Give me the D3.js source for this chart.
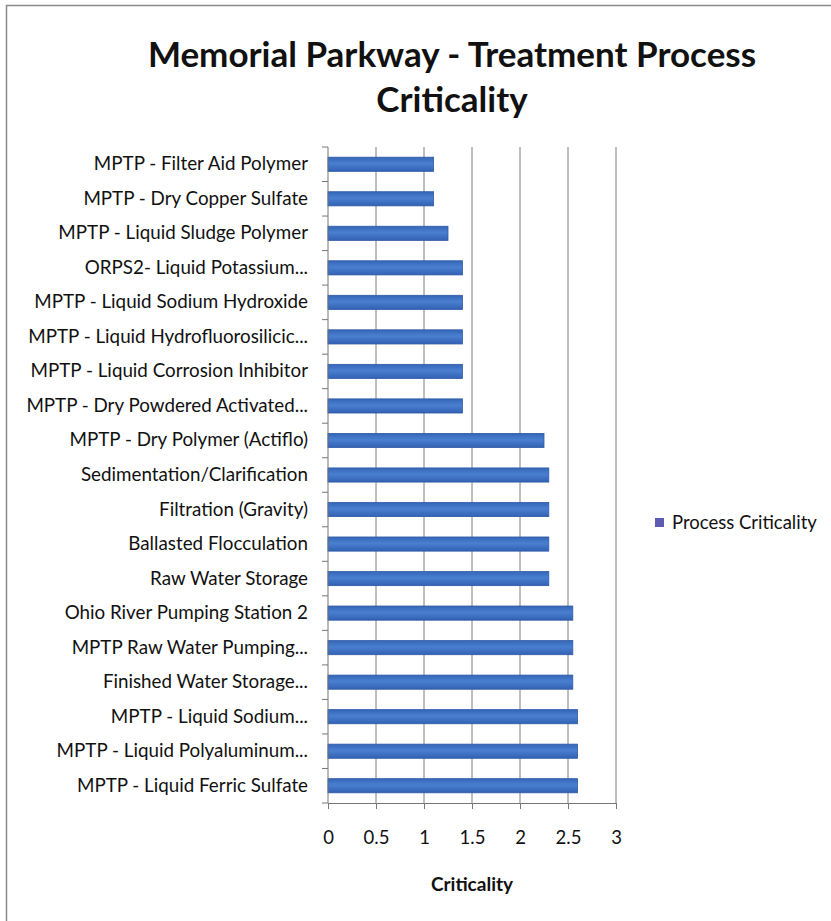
<!DOCTYPE html>
<html>
<head>
<meta charset="utf-8">
<script src="https://cdn.jsdelivr.net/npm/d3@7"></script>
<style>
  html, body { margin: 0; padding: 0; background: #fff; }
  svg { display: block; }
  text { font-family: Lato, "Open Sans", sans-serif; fill: #111; }
</style>
</head>
<body>
<svg id="chart" width="831" height="921"></svg>
<script>
// Process names, top to bottom
const categories = [
  "MPTP - Filter Aid Polymer",
  "MPTP - Dry Copper Sulfate",
  "MPTP - Liquid Sludge Polymer",
  "ORPS2- Liquid Potassium...",
  "MPTP - Liquid Sodium Hydroxide",
  "MPTP - Liquid Hydrofluorosilicic...",
  "MPTP - Liquid Corrosion Inhibitor",
  "MPTP - Dry Powdered Activated...",
  "MPTP - Dry Polymer (Actiflo)",
  "Sedimentation/Clarification",
  "Filtration (Gravity)",
  "Ballasted Flocculation",
  "Raw Water Storage",
  "Ohio River Pumping Station 2",
  "MPTP Raw Water Pumping...",
  "Finished Water Storage...",
  "MPTP - Liquid Sodium...",
  "MPTP - Liquid Polyaluminum...",
  "MPTP - Liquid Ferric Sulfate"
];
const criticality = [1.1, 1.1, 1.25, 1.4, 1.4, 1.4, 1.4, 1.4, 2.25, 2.3, 2.3, 2.3, 2.3, 2.55, 2.55, 2.55, 2.6, 2.6, 2.6];
const xTicks = [0, 0.5, 1, 1.5, 2, 2.5, 3];
const seriesName = "Process Criticality";
const titleLines = ["Memorial Parkway - Treatment Process", "Criticality"];
const xTitle = "Criticality";

const svg = d3.select("#chart");

// outer chart frame
svg.append("rect")
  .attr("x", 6.5).attr("y", 5.5)
  .attr("width", 840).attr("height", 930)
  .attr("fill", "#fff").attr("stroke", "#8a8a8a").attr("stroke-width", 1.5);

const plot = { left: 328, right: 616, top: 147, bottom: 803 };

const x = d3.scaleLinear().domain([0, 3]).range([plot.left, plot.right]);
const y = d3.scaleBand().domain(categories).range([plot.top, plot.bottom]).paddingInner(0.59).paddingOuter(0.295);
const yb = d3.scaleBand().domain(categories).range([plot.top, plot.bottom]);

// title
svg.append("g").selectAll("text").data(titleLines).join("text")
  .attr("x", 452).attr("y", (d, i) => 67 + i * 45)
  .attr("text-anchor", "middle")
  .attr("font-size", 35).attr("font-weight", "bold")
  .attr("fill", "#000")
  .text(d => d);

// vertical gridlines
svg.append("g").selectAll("line").data(xTicks.slice(1)).join("line")
  .attr("x1", d => x(d)).attr("x2", d => x(d))
  .attr("y1", plot.top).attr("y2", plot.bottom)
  .attr("stroke", "#7f7f7f").attr("stroke-width", 1);

// bar gradient
const defs = svg.append("defs");
const grad = defs.append("linearGradient").attr("id", "barGrad")
  .attr("x1", 0).attr("y1", 0).attr("x2", 0).attr("y2", 1);
grad.append("stop").attr("offset", "0%").attr("stop-color", "#3566b8");
grad.append("stop").attr("offset", "45%").attr("stop-color", "#4a7fd0");
grad.append("stop").attr("offset", "100%").attr("stop-color", "#3261b4");

// bars
svg.append("g").selectAll("rect").data(categories).join("rect")
  .attr("x", x(0))
  .attr("y", d => y(d))
  .attr("width", (d, i) => x(criticality[i]) - x(0))
  .attr("height", y.bandwidth())
  .attr("fill", "url(#barGrad)")
  .attr("stroke", "#2f5aa5").attr("stroke-width", 0.8);

// y axis with ticks between categories
const yAxisG = svg.append("g");
yAxisG.append("line")
  .attr("x1", plot.left).attr("x2", plot.left)
  .attr("y1", plot.top).attr("y2", plot.bottom)
  .attr("stroke", "#777").attr("stroke-width", 1);
yAxisG.selectAll("line.tick").data(categories.concat([null])).join("line")
  .attr("class", "tick")
  .attr("x1", plot.left - 6).attr("x2", plot.left)
  .attr("y1", (d, i) => plot.top + i * yb.step())
  .attr("y2", (d, i) => plot.top + i * yb.step())
  .attr("stroke", "#777");
yAxisG.selectAll("text").data(categories).join("text")
  .attr("x", 308)
  .attr("y", d => yb(d) + yb.bandwidth() / 2 + 6)
  .attr("text-anchor", "end")
  .attr("font-size", 18.8)
  .attr("fill", "#000")
  .text(d => d);

// x axis
const xAxisG = svg.append("g").attr("transform", `translate(0,${plot.bottom})`)
  .call(d3.axisBottom(x).tickValues(xTicks).tickSize(6).tickPadding(22).tickFormat(d3.format("")));
xAxisG.select(".domain").attr("stroke", "#777");
xAxisG.selectAll(".tick line").attr("stroke", "#777");
xAxisG.selectAll(".tick text")
  .attr("font-size", 18.5).attr("font-family", "Lato, 'Open Sans', sans-serif").attr("fill", "#000");

svg.append("text")
  .attr("x", 472).attr("y", 891)
  .attr("text-anchor", "middle")
  .attr("font-size", 19).attr("font-weight", "bold")
  .attr("fill", "#000")
  .text(xTitle);

// legend
const lg = svg.append("g").attr("transform", "translate(655,518)");
lg.append("rect").attr("x", 0).attr("y", 0).attr("width", 9).attr("height", 9)
  .attr("fill", "#5d5cb0");
lg.append("text").attr("x", 17).attr("y", 11).attr("font-size", 18.5).attr("fill", "#000").text(seriesName);
</script>
</body>
</html>
